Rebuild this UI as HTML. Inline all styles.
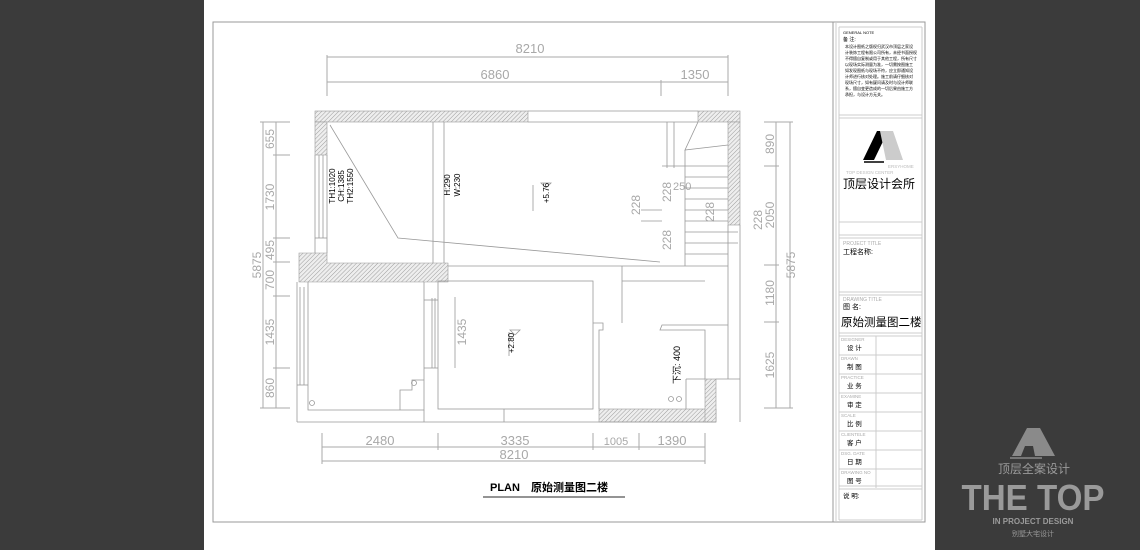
<!DOCTYPE html>
<html><head><meta charset="utf-8"><style>
html,body{margin:0;padding:0;background:#3b3b3b;}
svg{display:block}
.d{font-family:"Liberation Sans",sans-serif;fill:#a8a8a8;font-size:13px}
.s{font-family:"Liberation Sans","Noto Sans CJK SC",sans-serif;fill:#000}
</style></head><body>
<svg width="1140" height="550" viewBox="0 0 1140 550" xmlns="http://www.w3.org/2000/svg">
<defs>
<pattern id="h" width="3" height="3" patternUnits="userSpaceOnUse" patternTransform="rotate(45)">
<rect width="3" height="3" fill="#eee"/><line x1="0" y1="0" x2="0" y2="3" stroke="#888" stroke-width="0.8"/></pattern>
</defs>
<rect x="0" y="0" width="1140" height="550" fill="#3b3b3b"/>
<rect x="204" y="0" width="731" height="550" fill="#fff"/>
<rect x="213" y="22" width="712" height="500" fill="none" stroke="#999" stroke-width="1"/>
<line x1="833" y1="22" x2="833" y2="522" stroke="#999"/>
<line x1="836" y1="22" x2="836" y2="522" stroke="#ccc"/>
<g stroke="#aaa" fill="none" stroke-width="1">
<line x1="327" y1="57" x2="728" y2="57"/><line x1="327" y1="82" x2="728" y2="82"/>
<line x1="327" y1="55" x2="327" y2="96"/><line x1="728" y1="55" x2="728" y2="96"/><line x1="661" y1="80" x2="661" y2="96"/>
<line x1="263" y1="122" x2="263" y2="408"/><line x1="276" y1="122" x2="276" y2="408"/>
<line x1="260" y1="122" x2="290" y2="122"/><line x1="273" y1="155" x2="290" y2="155"/><line x1="273" y1="238" x2="290" y2="238"/><line x1="273" y1="262" x2="290" y2="262"/><line x1="273" y1="296" x2="290" y2="296"/><line x1="273" y1="368" x2="290" y2="368"/><line x1="260" y1="408" x2="290" y2="408"/>
<line x1="776" y1="122" x2="776" y2="408"/><line x1="790" y1="122" x2="790" y2="408"/>
<line x1="764" y1="122" x2="793" y2="122"/><line x1="764" y1="166" x2="779" y2="166"/><line x1="764" y1="265" x2="779" y2="265"/><line x1="764" y1="322" x2="779" y2="322"/><line x1="764" y1="408" x2="793" y2="408"/>
<line x1="322" y1="447" x2="705" y2="447"/><line x1="322" y1="461" x2="705" y2="461"/>
<line x1="322" y1="433" x2="322" y2="464"/><line x1="438" y1="433" x2="438" y2="450"/><line x1="593" y1="433" x2="593" y2="450"/><line x1="639" y1="433" x2="639" y2="450"/><line x1="705" y1="433" x2="705" y2="464"/>
</g>
<g class="d">
<text x="530" y="53" text-anchor="middle">8210</text>
<text x="495" y="79" text-anchor="middle">6860</text>
<text x="695" y="79" text-anchor="middle">1350</text>
<text x="380" y="445" text-anchor="middle">2480</text>
<text x="515" y="445" text-anchor="middle">3335</text>
<text x="616" y="445" text-anchor="middle" font-size="11">1005</text>
<text x="672" y="445" text-anchor="middle">1390</text>
<text x="514" y="459" text-anchor="middle">8210</text>
<g font-size="12">
<text transform="translate(261,265) rotate(-90)" text-anchor="middle">5875</text>
<text transform="translate(274,139) rotate(-90)" text-anchor="middle">655</text>
<text transform="translate(274,197) rotate(-90)" text-anchor="middle">1730</text>
<text transform="translate(274,250) rotate(-90)" text-anchor="middle">495</text>
<text transform="translate(274,280) rotate(-90)" text-anchor="middle">700</text>
<text transform="translate(274,332) rotate(-90)" text-anchor="middle">1435</text>
<text transform="translate(274,388) rotate(-90)" text-anchor="middle">860</text>
<text transform="translate(774,144) rotate(-90)" text-anchor="middle">890</text>
<text transform="translate(774,215) rotate(-90)" text-anchor="middle">2050</text>
<text transform="translate(774,293) rotate(-90)" text-anchor="middle">1180</text>
<text transform="translate(774,365) rotate(-90)" text-anchor="middle">1625</text>
<text transform="translate(795,265) rotate(-90)" text-anchor="middle">5875</text>
<text transform="translate(466,332) rotate(-90)" text-anchor="middle">1435</text>
<text transform="translate(640,205) rotate(-90)" text-anchor="middle">228</text>
<text transform="translate(671,240) rotate(-90)" text-anchor="middle">228</text>
<text transform="translate(671,192) rotate(-90)" text-anchor="middle">228</text>
<text transform="translate(714,212) rotate(-90)" text-anchor="middle">228</text>
<text transform="translate(762,220) rotate(-90)" text-anchor="middle">228</text>
<text x="673" y="190" font-size="11">250</text>
</g>
</g>
<g fill="url(#h)" stroke="#999" stroke-width="0.6">
<rect x="315" y="111" width="213" height="11"/>
<rect x="698" y="111" width="42" height="11"/>
<rect x="728" y="122" width="12" height="103"/>
<rect x="315" y="122" width="12" height="33"/>
<polygon points="299,253 327,253 327,263 448,263 448,282 299,282"/>
<rect x="599" y="409" width="117" height="13"/>
<rect x="705" y="379" width="11" height="43"/>
</g>
<g stroke="#999" fill="none" stroke-width="0.8">
<line x1="528" y1="111" x2="698" y2="111"/><line x1="528" y1="122" x2="698" y2="122"/>
<line x1="315" y1="155" x2="315" y2="253"/><line x1="327" y1="155" x2="327" y2="253"/>
<line x1="319" y1="155" x2="319" y2="238"/><line x1="323" y1="155" x2="323" y2="238"/><line x1="315" y1="238" x2="327" y2="238"/>
<line x1="433" y1="122" x2="433" y2="263"/><line x1="444" y1="122" x2="444" y2="263"/>
<polyline points="330,125 398,238 660,262"/>
<polyline points="698,122 685,150 728,145"/>
<line x1="685" y1="150" x2="685" y2="266"/>
<line x1="667" y1="122" x2="667" y2="168"/><line x1="674" y1="122" x2="674" y2="168"/>
<line x1="662" y1="166" x2="728" y2="166"/><line x1="685" y1="177" x2="728" y2="177"/><line x1="685" y1="188" x2="728" y2="188"/><line x1="685" y1="199" x2="728" y2="199"/><line x1="685" y1="210" x2="728" y2="210"/><line x1="685" y1="221" x2="728" y2="221"/><line x1="685" y1="232" x2="738" y2="232"/><line x1="685" y1="243" x2="738" y2="243"/><line x1="685" y1="254" x2="728" y2="254"/>
<line x1="641" y1="210" x2="662" y2="210"/><line x1="641" y1="221" x2="662" y2="221"/>
<line x1="448" y1="266" x2="728" y2="266"/>
<line x1="728" y1="225" x2="728" y2="379"/><line x1="740" y1="225" x2="740" y2="422"/><line x1="716" y1="379" x2="740" y2="379"/>
<line x1="297" y1="282" x2="297" y2="422"/><line x1="297" y1="422" x2="716" y2="422"/>
<line x1="308" y1="282" x2="308" y2="386"/><line x1="300" y1="287" x2="300" y2="385"/><line x1="304" y1="287" x2="304" y2="385"/><line x1="297" y1="385" x2="308" y2="385"/>
<polyline points="308,386 308,410 424,410 424,282"/>
<line x1="424" y1="422" x2="424" y2="410"/><line x1="424" y1="300" x2="438" y2="300"/><line x1="424" y1="368" x2="438" y2="368"/>
<line x1="432" y1="298" x2="432" y2="368"/><line x1="435" y1="298" x2="435" y2="368"/>
<polyline points="400,410 400,390 412,390 412,380 424,380"/>
<circle cx="312" cy="403" r="2.5"/><circle cx="414" cy="383" r="2.5"/>
<rect x="438" y="281" width="155" height="128"/>
<line x1="504" y1="409" x2="504" y2="422"/>
<line x1="455" y1="297" x2="455" y2="368"/>
<polyline points="593,323 603,323 603,330 599,330 599,409"/>
<polyline points="622,266 622,323"/>
<polyline points="622,281 705,281"/>
<polyline points="728,325 662,325 660,330 705,330 705,379"/>
<line x1="686" y1="379" x2="686" y2="409"/><line x1="686" y1="379" x2="705" y2="379"/>
<circle cx="671" cy="399" r="2.5"/><circle cx="679" cy="399" r="2.5"/>
<line x1="533" y1="211" x2="533" y2="185"/><line x1="509" y1="356" x2="509" y2="332"/>
<polyline points="546,188 541,183 551,183 546,188"/>
<polyline points="515,335 510,330 520,330 515,335"/>
</g>
<g class="s" font-size="8">
<text transform="translate(335,186) rotate(-90)" text-anchor="middle">TH1:1020</text>
<text transform="translate(344,186) rotate(-90)" text-anchor="middle">CH:1385</text>
<text transform="translate(353,186) rotate(-90)" text-anchor="middle">TH2:1550</text>
<text transform="translate(450,185) rotate(-90)" text-anchor="middle">H:290</text>
<text transform="translate(460,185) rotate(-90)" text-anchor="middle">W:230</text>
<text transform="translate(549,193) rotate(-90)" text-anchor="middle">+5.76</text>
<text transform="translate(514,343) rotate(-90)" text-anchor="middle">+2.80</text>
<text transform="translate(680,365) rotate(-90)" text-anchor="middle" font-size="9">下沉: 400</text>
</g>
<text x="490" y="491" class="s" font-size="11" font-weight="bold">PLAN　原始测量图二楼</text>
<line x1="483" y1="497" x2="625" y2="497" stroke="#555" stroke-width="1.2"/>
<g stroke="#ccc" fill="none" stroke-width="1">
<line x1="839" y1="27" x2="922" y2="27"/><line x1="839" y1="27" x2="839" y2="520"/><line x1="922" y1="27" x2="922" y2="520"/>
<line x1="839" y1="115" x2="922" y2="115"/><line x1="839" y1="118" x2="922" y2="118"/>
<line x1="839" y1="222" x2="922" y2="222"/>
<line x1="839" y1="235" x2="922" y2="235"/><line x1="839" y1="238" x2="922" y2="238"/>
<line x1="839" y1="292" x2="922" y2="292"/><line x1="839" y1="295" x2="922" y2="295"/>
<line x1="839" y1="333" x2="922" y2="333"/><line x1="839" y1="336" x2="922" y2="336"/>
<line x1="876" y1="336" x2="876" y2="488"/>
<line x1="839" y1="355" x2="922" y2="355"/><line x1="839" y1="374" x2="922" y2="374"/><line x1="839" y1="393" x2="922" y2="393"/><line x1="839" y1="412" x2="922" y2="412"/><line x1="839" y1="431" x2="922" y2="431"/><line x1="839" y1="450" x2="922" y2="450"/><line x1="839" y1="469" x2="922" y2="469"/>
<line x1="839" y1="486" x2="922" y2="486"/><line x1="839" y1="489" x2="922" y2="489"/>
<line x1="839" y1="520" x2="922" y2="520"/>
</g>
<g class="s" font-size="4">
<text x="843" y="34">GENERAL NOTE</text>
<text x="843" y="41" font-size="5">备 注:</text>
<text x="845" y="48">本设计图纸之版权归武汉市顶层之家设</text>
<text x="845" y="54">计装饰工程有限公司所有，未经书面授权</text>
<text x="845" y="60">不得擅自复制或用于其他工程，所有尺寸</text>
<text x="845" y="66">以现场实际测量为准，一切需按图施工</text>
<text x="845" y="72">如发现图纸与现场不符，应立即通知设</text>
<text x="845" y="78">计师进行核对处理。施工前请仔细核对</text>
<text x="845" y="84">现场尺寸，如有疑问请及时与设计师联</text>
<text x="845" y="90">系，擅自变更造成的一切后果由施工方</text>
<text x="845" y="96">承担，与设计方无关。</text>
</g>
<polygon points="863,160 877,131 888,131 874,160" fill="#000"/>
<polygon points="880,131 893,131 903,160 886,160" fill="#ccc"/>
<line x1="864" y1="162" x2="884" y2="162" stroke="#000" stroke-width="1.5"/>
<text x="888" y="168" font-family="Liberation Sans" font-size="4.5" fill="#bbb">ERSYHOME</text>
<text x="846" y="174" font-family="Liberation Sans" font-size="4.5" fill="#bbb">TOP DESIGN CENTER</text>
<text x="843" y="188" class="s" font-size="12">顶层设计会所</text>
<text x="843" y="245" font-family="Liberation Sans" font-size="5" fill="#aaa">PROJECT TITLE</text>
<text x="843" y="254" class="s" font-size="7">工程名称:</text>
<text x="843" y="301" font-family="Liberation Sans" font-size="5" fill="#aaa">DRAWING TITLE</text>
<text x="843" y="309" class="s" font-size="7">图 名:</text>
<text x="841" y="326" class="s" font-size="11.5">原始测量图二楼</text>
<g font-family="Liberation Sans" font-size="4.5" fill="#aaa">
<text x="841" y="341">DESIGNER</text><text x="841" y="360">DRAWN</text><text x="841" y="379">PRACTICE</text><text x="841" y="398">EXAMINE</text><text x="841" y="417">SCALE</text><text x="841" y="436">CLIENTELE</text><text x="841" y="455">DSG. DATE</text><text x="841" y="474">DRAWING NO</text>
</g>
<g class="s" font-size="6.5">
<text x="847" y="350">设 计</text><text x="847" y="369">制 图</text><text x="847" y="388">业 务</text><text x="847" y="407">审 定</text><text x="847" y="426">比 例</text><text x="847" y="445">客 户</text><text x="847" y="464">日 期</text><text x="847" y="483">图 号</text>
<text x="843" y="498">说 明:</text>
</g>
<polygon points="1012,456 1027,428 1040,428 1055,456 1035,456 1033,446 1025,446 1021,456" fill="#8a8a8a"/>
<line x1="1010" y1="458" x2="1042" y2="458" stroke="#8a8a8a" stroke-width="1.5"/>
<text x="1034" y="473" text-anchor="middle" font-family="Liberation Sans,Noto Sans CJK SC,sans-serif" font-size="12" fill="#9a9a9a">顶层全案设计</text>
<text x="1033" y="510" text-anchor="middle" font-family="Liberation Sans" font-weight="bold" font-size="36" fill="#9a9a9a" textLength="143" lengthAdjust="spacingAndGlyphs">THE TOP</text>
<text x="1033" y="524" text-anchor="middle" font-family="Liberation Sans" font-weight="bold" font-size="8" fill="#9a9a9a">IN PROJECT DESIGN</text>
<text x="1033" y="536" text-anchor="middle" font-family="Liberation Sans,Noto Sans CJK SC,sans-serif" font-size="7" fill="#9a9a9a">别墅大宅设计</text>
</svg>
</body></html>
